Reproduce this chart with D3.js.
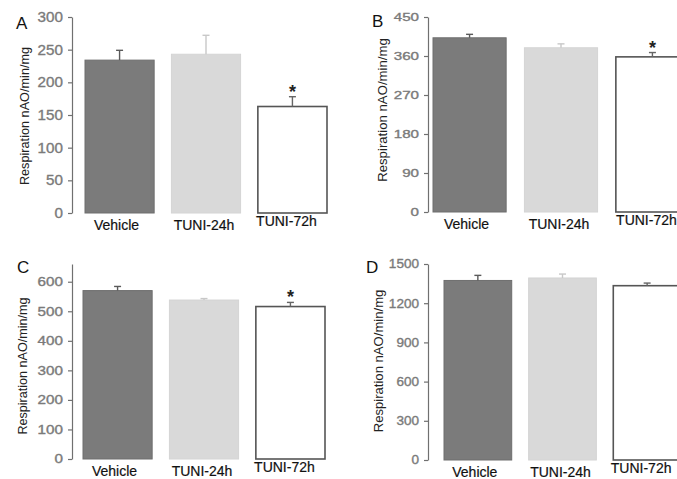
<!DOCTYPE html>
<html>
<head>
<meta charset="utf-8">
<script src="https://cdn.jsdelivr.net/npm/d3@7"></script>
<style>
  body { margin: 0; background: #fff; }
  svg { display: block; font-family: "Liberation Sans", Arial, sans-serif; }
</style>
</head>
<body>
<div id="chart"></div>
<script>
const categories = ["Vehicle", "TUNI-24h", "TUNI-72h"];

// panel A
const respA = [234, 243, 163];
const errA = [15, 29, 15];
const ticksA = [0, 50, 100, 150, 200, 250, 300];
const sigA = [false, false, true];

// panel B
const respB = [402, 379, 358];
const errB = [8, 9, 10];
const ticksB = [0, 90, 180, 270, 360, 450];
const sigB = [false, false, true];

// panel C
const respC = [570, 538, 516];
const errC = [14, 5, 14];
const ticksC = [0, 100, 200, 300, 400, 500, 600];
const sigC = [false, false, true];

// panel D
const respD = [1374, 1393, 1334];
const errD = [39, 30, 20];
const ticksD = [0, 300, 600, 900, 1200, 1500];
const sigD = [false, false, false];

const yLabel = "Respiration nAO/min/mg";

const FONT = "'Liberation Sans', Arial, sans-serif";
const fills = ["#7b7b7b", "#d9d9d9", "#ffffff"];
const strokes = ["#6e6e6e", "#d4d4d4", "#555555"];
const errColors = ["#5a5a5a", "#c8c8c8", "#666666"];
const labelDx = [-3, -2, -6];
const labelDy = [0, 0, -4];

const svg = d3.select("#chart").append("svg")
    .attr("width", 677).attr("height", 479);

const panels = [
    { letter: "A", resp: respA, err: errA, ticks: ticksA, sig: sigA, max: 300,
      axisX: 72, y0: 213, yTop: 17, bx: [85, 327], lx: 16, ly: 29, labX: 25, labY: 116,
      labSize: 12.7, tickFont: 14.5, sx: 1.05 },
    { letter: "B", resp: respB, err: errB, ticks: ticksB, sig: sigB, max: 450,
      axisX: 428, y0: 212, yTop: 17, bx: [433, 689], lx: 372, ly: 27, labX: 382, labY: 110,
      labSize: 13.2, tickFont: 11.5, sx: 1.32 },
    { letter: "C", resp: respC, err: errC, ticks: ticksC, sig: sigC, max: 660,
      axisX: 72, y0: 459, yTop: 264, bx: [83, 325], lx: 17, ly: 273, labX: 23, labY: 366,
      labSize: 12.6, tickFont: 12, sx: 1.27 },
    { letter: "D", resp: respD, err: errD, ticks: ticksD, sig: sigD, max: 1500,
      axisX: 428, y0: 460, yTop: 264, bx: [444, 681], lx: 366, ly: 273, labX: 378, labY: 361,
      labSize: 13.1, tickFont: 12, sx: 1.13 }
];

panels.forEach(p => {
    const g = svg.append("g");

    const y = d3.scaleLinear().domain([0, p.max]).range([p.y0, p.yTop]);
    const x = d3.scaleBand().domain(categories).range(p.bx).paddingInner(0.2).paddingOuter(0);

    // y axis
    const ax = g.append("g")
        .attr("transform", `translate(${p.axisX},0)`)
        .call(d3.axisLeft(y).tickValues(p.ticks).tickFormat(d3.format("d"))
            .tickSize(4).tickSizeOuter(0).tickPadding(5));
    ax.attr("font-family", FONT).attr("font-size", p.tickFont);
    ax.select(".domain").attr("stroke", "#707070").attr("stroke-width", 1.2);
    ax.selectAll(".tick line").attr("stroke", "#707070").attr("stroke-width", 1.2);
    ax.selectAll(".tick text")
        .attr("fill", "#7a7a7a")
        .attr("stroke", "#7a7a7a")
        .attr("stroke-width", 0.35)
        .attr("font-size", p.tickFont)
        .attr("x", -9 / p.sx)
        .attr("transform", `scale(${p.sx},1)`);

    // bars
    g.selectAll("rect.bar").data(p.resp).enter().append("rect")
        .attr("class", "bar")
        .attr("x", (d, i) => x(categories[i]))
        .attr("y", d => y(d))
        .attr("width", x.bandwidth())
        .attr("height", d => p.y0 - y(d))
        .attr("fill", (d, i) => fills[i])
        .attr("stroke", (d, i) => strokes[i])
        .attr("stroke-width", (d, i) => i == 2 ? 1.6 : 1);

    // error bars (upper only)
    p.resp.forEach((d, i) => {
        const cx = x(categories[i]) + x.bandwidth() / 2;
        const top = y(d + p.err[i]);
        g.append("line")
            .attr("x1", cx).attr("x2", cx)
            .attr("y1", y(d)).attr("y2", top)
            .attr("stroke", errColors[i]).attr("stroke-width", 1.4);
        g.append("line")
            .attr("x1", cx - 3.5).attr("x2", cx + 3.5)
            .attr("y1", top).attr("y2", top)
            .attr("stroke", errColors[i]).attr("stroke-width", 1.4);
        if (p.sig[i]) {
            g.append("text")
                .attr("x", cx).attr("y", top + 1)
                .attr("text-anchor", "middle")
                .attr("font-size", 18)
                .attr("font-weight", "bold")
                .attr("fill", "#222")
                .text("*");
        }
    });

    // category labels
    g.selectAll("text.cat").data(categories).enter().append("text")
        .attr("class", "cat")
        .attr("x", (d, i) => x(d) + x.bandwidth() / 2 + labelDx[i])
        .attr("y", (d, i) => p.y0 + 17 + labelDy[i])
        .attr("text-anchor", "middle")
        .attr("font-size", 14)
        .attr("fill", "#111")
        .attr("stroke", "#111")
        .attr("stroke-width", 0.2)
        .text(d => d);

    // y label
    g.append("text")
        .attr("transform", `translate(${p.labX},${p.labY}) rotate(-90)`)
        .attr("text-anchor", "middle")
        .attr("dy", "0.35em")
        .attr("font-size", p.labSize)
        .attr("fill", "#222")
        .text(yLabel);

    // panel letter
    g.append("text")
        .attr("x", p.lx).attr("y", p.ly)
        .attr("font-size", 17)
        .attr("fill", "#111")
        .text(p.letter);
});
</script>
</body>
</html>
